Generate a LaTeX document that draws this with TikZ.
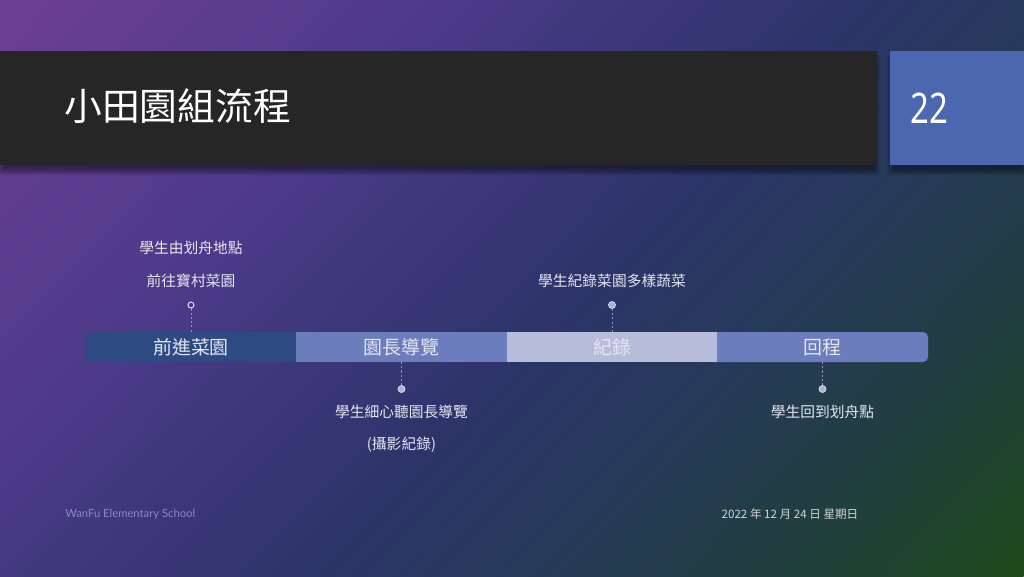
\documentclass[tikz,border=0pt]{standalone}
\usepackage{fontspec}
\setmainfont{Noto Sans CJK TC}
\newfontfamily\cjk{Noto Sans CJK TC}
\newfontfamily\numfont[FakeStretch=0.78]{Noto Sans}
\newfontfamily\footfont{Lato}
\usetikzlibrary{shadows.blur,shadings}
\definecolor{bgA}{HTML}{6E3F94}
\definecolor{bgB}{HTML}{4A3A88}
\definecolor{bgC}{HTML}{2C3468}
\definecolor{bgD}{HTML}{263A5A}
\definecolor{bgE}{HTML}{213F3C}
\definecolor{bgF}{HTML}{1E4A1A}
\pgfdeclarehorizontalshading{bgaxis}{100bp}{color(0bp)=(bgA); color(25bp)=(bgA); color(40bp)=(bgB); color(52.5bp)=(bgC); color(59bp)=(bgD); color(67.5bp)=(bgE); color(75bp)=(bgF); color(100bp)=(bgF)}
\definecolor{hdr}{HTML}{262626}
\definecolor{numbox}{HTML}{4A67B0}
\definecolor{segA}{HTML}{2E4A82}
\definecolor{segB}{HTML}{6B7DBD}
\definecolor{segC}{HTML}{B7BCDB}
\definecolor{txtlight}{HTML}{E4E6F0}
\definecolor{dotfill}{HTML}{A8B0D8}
\definecolor{dashc}{HTML}{8A92C0}
\definecolor{footc}{HTML}{8C88C4}
\definecolor{datec}{HTML}{D4D4D4}
\tikzset{
  segbox/.style={rectangle, minimum width=4.21cm, minimum height=0.6cm, inner sep=0pt, text=txtlight, font=\cjk\fontsize{10.8}{12}\selectfont},
  dotopen/.style={circle, draw=white!85!dashc, line width=0.5pt, inner sep=0pt, minimum size=0.12cm},
  dotfull/.style={circle, draw=white!70!dotfill, fill=dotfill, line width=0.4pt, inner sep=0pt, minimum size=0.14cm},
  dashlink/.style={draw=dashc, dashed, dash pattern=on 1.2pt off 1.2pt, line width=0.5pt},
  calltext/.style={text=txtlight, font=\cjk\fontsize{8.4}{10}\selectfont, inner sep=0pt},
}
\begin{document}
\begin{tikzpicture}[x=0.02cm,y=-0.02cm]
\useasboundingbox (0,0) rectangle (1024,576);
% background: linear gradient from top-left (purple) to bottom-right (green)
\begin{scope}
\clip (0,0) rectangle (1024,576);
\begin{scope}[transform canvas={rotate around={-44:(0,0)}}]
\shade[shading=bgaxis] (0cm,-16cm) rectangle (22.74cm,16cm);
\end{scope}
\end{scope}
% header
\fill[hdr, blur shadow={shadow xshift=0pt, shadow yshift=-4pt, shadow opacity=45, shadow blur steps=8}] (0,51) rectangle (877,165);
\fill[numbox, blur shadow={shadow xshift=0pt, shadow yshift=-4pt, shadow opacity=45, shadow blur steps=8}] (890,51) rectangle (1024,165);
\node[anchor=west, text=white, font=\cjk\fontsize{21.5}{24}\selectfont, inner sep=0pt] (title) at (64,106) {小田園組流程};
\node[text=white, font=\numfont\fontsize{24}{28}\selectfont, inner sep=0pt] (pagenum) at (929,108) {22};
% timeline bar
\fill[segA, rounded corners=0.1cm] (86,332) rectangle (306,362);
\fill[segB, rounded corners=0.1cm] (707,332) rectangle (928,362);
\node[segbox] (s1) at (191,347) {前進菜園};
\node[segbox, fill=segB] (s2) at (401.5,347) {園長導覽};
\node[segbox, fill=segC] (s3) at (612,347) {紀錄};
\node[segbox] (s4) at (822.5,347) {回程};
% callouts
\node[dotopen] (d1) at (191,305) {};
\node[dotfull] (d2) at (401.5,389) {};
\node[dotfull] (d3) at (612,305) {};
\node[dotfull] (d4) at (822.5,389) {};
\draw[dashlink] (d1) -- (s1.north);
\draw[dashlink] (d2) -- (s2.south);
\draw[dashlink] (d3) -- (s3.north);
\draw[dashlink] (d4) -- (s4.south);
\node[calltext] (t1a) at (191,248) {學生由划舟地點};
\node[calltext] (t1b) at (191,281) {前往寶村菜園};
\node[calltext] (t3) at (612,281) {學生紀錄菜園多樣蔬菜};
\node[calltext] (t2a) at (401.5,412) {學生細心聽園長導覽};
\node[calltext] (t2b) at (401.5,445) {(攝影紀錄)};
\node[calltext] (t4) at (822.5,412) {學生回到划舟點};
% footer
\node[anchor=west, text=footc, font=\footfont\fontsize{6.4}{8}\selectfont, inner sep=0pt] (foot) at (65,514) {WanFu Elementary School};
\node[text=datec, font=\cjk\fontsize{6.6}{8}\selectfont, inner sep=0pt] (date) at (790,514) {2022 年 12 月 24 日 星期日};
\end{tikzpicture}
\end{document}
